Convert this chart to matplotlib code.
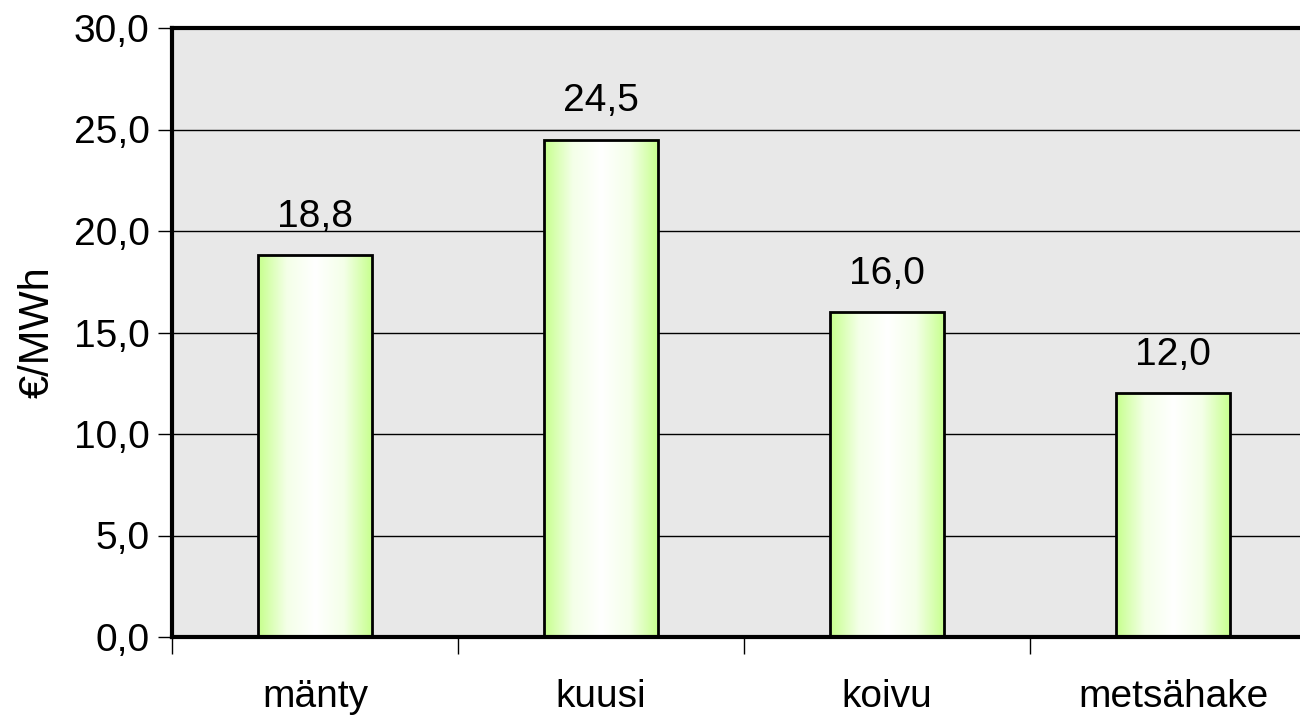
import matplotlib
matplotlib.use('Agg')
from matplotlib import pyplot as plt
from matplotlib.colors import LinearSegmentedColormap
import numpy as np

# data
categories = ['mänty', 'kuusi', 'koivu', 'metsähake']
values = [18.8, 24.5, 16.0, 12.0]
yticks = [0, 5, 10, 15, 20, 25, 30]

plt.rcParams['font.family'] = ['Liberation Sans', 'DejaVu Sans']

fig = plt.figure(figsize=(13, 7.19), dpi=100)
ax = fig.add_axes([172 / 1300, 1 - 637 / 719, 1144 / 1300, 609 / 719])
ax.set_facecolor('#e8e8e8')

x = np.arange(len(categories))
bars = ax.bar(x, values, width=0.40, facecolor='none', edgecolor='black', linewidth=2, zorder=3)

# green-white-green gradient inside each bar
cmap = LinearSegmentedColormap.from_list('g', ['#c6ff8c', '#f4ffe8', '#ffffff', '#f4ffe8', '#c6ff8c'])
grad = np.linspace(0, 1, 256).reshape(1, -1)
for b in bars:
    ax.imshow(grad, cmap=cmap, aspect='auto', zorder=2,
              extent=[b.get_x(), b.get_x() + b.get_width(), 0, b.get_height()])

for b, v in zip(bars, values):
    ax.text(b.get_x() + b.get_width() / 2, v + 1.0, f'{v:.1f}'.replace('.', ','),
            ha='center', va='bottom', fontsize=28)

ax.set_xlim(-0.5, len(categories) - 0.5)
ax.set_ylim(0, 30)
ax.set_yticks(yticks)
ax.set_yticklabels([f'{t:.1f}'.replace('.', ',') for t in yticks], fontsize=28)
ax.set_xticks(x)
ax.set_xticklabels(categories, fontsize=28)
ax.set_xticks(np.arange(len(categories)) - 0.5, minor=True)
ax.tick_params(axis='x', which='major', length=0, pad=30)
ax.tick_params(axis='x', which='minor', length=12, width=1, direction='out')
ax.tick_params(axis='y', length=10, width=1, direction='out', pad=6)
ax.yaxis.grid(True, color='black', linewidth=1)
ax.set_axisbelow(True)

ax.set_ylabel('€/MWh', fontsize=30, labelpad=12)

for s in ['left', 'bottom', 'top']:
    ax.spines[s].set_linewidth(3)
ax.spines['right'].set_visible(False)

plt.savefig('out.png', dpi=100)
